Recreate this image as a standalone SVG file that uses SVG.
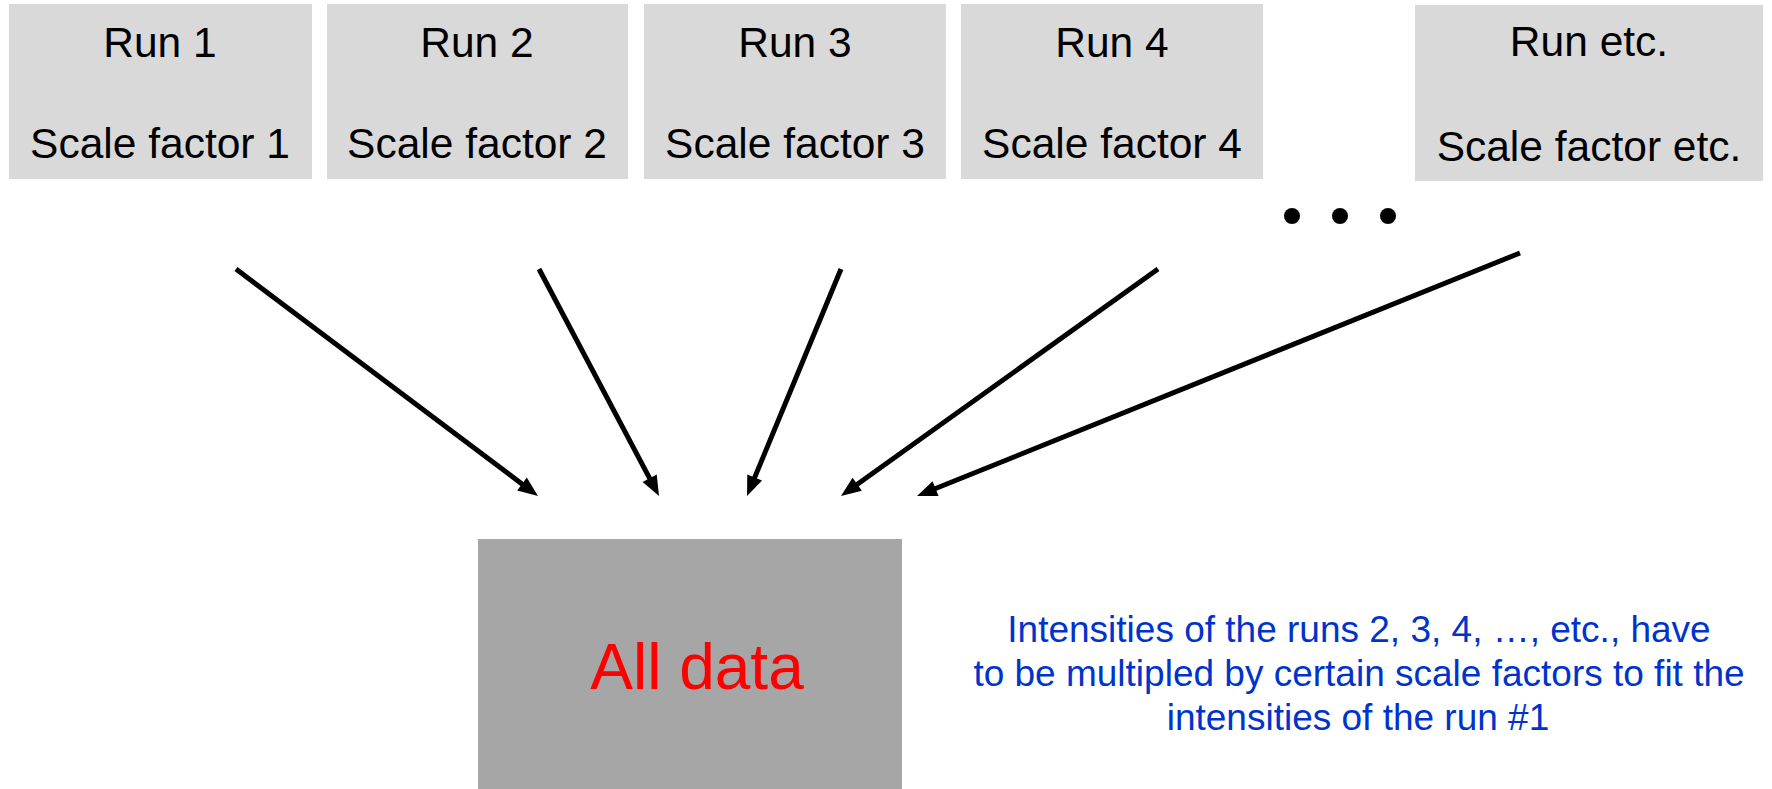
<svg xmlns="http://www.w3.org/2000/svg" width="1772" height="789" viewBox="0 0 1772 789">
<style>
.run rect{fill:#d9d9d9}
.run text{font-family:"Liberation Sans",Arial,sans-serif;font-size:42.5px;fill:#000;text-anchor:middle}
.conn line{stroke:#000;stroke-width:5;marker-end:url(#ah)}
.note{font-family:"Liberation Sans",Arial,sans-serif;font-size:37px;fill:#0033cc;text-anchor:middle}
</style>
<defs>
<marker id="ah" markerUnits="userSpaceOnUse" markerWidth="20" markerHeight="16" refX="2" refY="8" orient="auto" overflow="visible">
<path d="M0,0 L20,8 L0,16 z" fill="#000"/>
</marker>
</defs>
<rect width="1772" height="789" fill="#fff"/>
<g id="run1" class="run"><rect x="9" y="4" width="303" height="175"/><text x="160" y="57">Run 1</text><text x="160" y="158">Scale factor 1</text></g>
<g id="run2" class="run"><rect x="327" y="4" width="301" height="175"/><text x="477" y="57">Run 2</text><text x="477" y="158">Scale factor 2</text></g>
<g id="run3" class="run"><rect x="644" y="4" width="302" height="175"/><text x="795" y="57">Run 3</text><text x="795" y="158">Scale factor 3</text></g>
<g id="run4" class="run"><rect x="961" y="4" width="302" height="175"/><text x="1112" y="57">Run 4</text><text x="1112" y="158">Scale factor 4</text></g>
<g id="runetc" class="run"><rect x="1415" y="5" width="348" height="176"/><text x="1589" y="56">Run etc.</text><text x="1589" y="161">Scale factor etc.</text></g>
<g id="dots" fill="#000"><circle cx="1292" cy="216" r="8"/><circle cx="1340" cy="216" r="8"/><circle cx="1388" cy="216" r="8"/></g>
<g id="connectors" class="conn">
<line x1="236" y1="269" x2="523.6" y2="485.2"/>
<line x1="539" y1="269" x2="650.6" y2="480.1"/>
<line x1="841" y1="269" x2="753.9" y2="479.4"/>
<line x1="1158" y1="269" x2="855.6" y2="485.5"/>
<line x1="1520" y1="253" x2="933.7" y2="489.3"/>
</g>
<g id="alldata"><rect x="478" y="539" width="424" height="250" fill="#a6a6a6"/><text x="697" y="689" font-family="Liberation Sans, Arial, sans-serif" font-size="64" fill="#ff0000" text-anchor="middle">All data</text></g>
<g id="note"><text class="note" x="1359" y="642">Intensities of the runs 2, 3, 4, …, etc., have</text><text class="note" x="1359" y="686">to be multipled by certain scale factors to fit the</text><text class="note" x="1358" y="730">intensities of the run #1</text></g>
</svg>
